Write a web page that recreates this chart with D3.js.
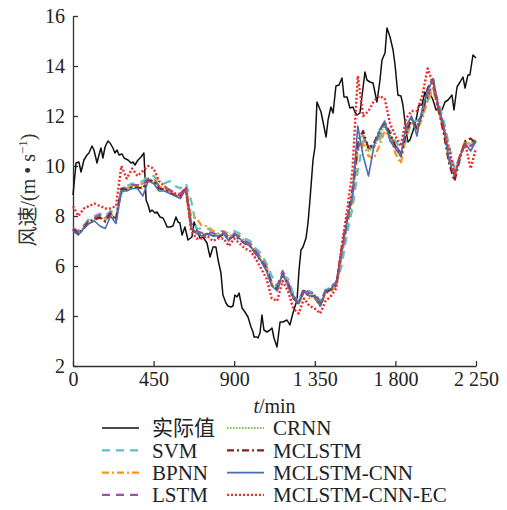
<!DOCTYPE html>
<html>
<head>
<meta charset="utf-8">
<script src="https://cdn.jsdelivr.net/npm/d3@7"></script>
<style>
  body { margin: 0; background: #fff; }
</style>
</head>
<body>
<div id="chart"></div>
<script>
// measured wind speed (own time stamps)
const actualT = [0,17,33,45,61,78,89,106,117,134,145,156,167,179,195,207,223,234,246,257,274,285,307,324,335,346,363,380,396,
  408,419,430,441,458,469,486,502,514,525,542,558,575,586,597,609,625,642,664,676,692,709,726,748,765,782,798,810,826,837,854,
  865,882,893,904,916,927,944,960,977,994,1005,1011,1027,1033,1044,1055,1066,1083,1100,1111,1122,1139,1156,1172,1195,1211,1228,
  1251,1262,1273,1284,1301,1312,1323,1340,1351,1362,1385,1396,1413,1424,1440,1452,1468,1485,1502,1513,1530,1546,1563,1574,1586,
  1602,1630,1641,1658,1675,1697,1714,1725,1742,1753,1770,1787,1798,1814,1831,1842,1859,1870,1881,1898,1915,1932,1948,1965,1982,
  1993,2010,2027,2038,2060,2077,2094,2116,2127,2144,2161,2177,2189,2205,2216,2233,2250];
const actualV = [8.84,10.12,10.16,9.76,10.24,10.44,10.52,10.8,10.64,10.12,10.44,10.72,10.32,10.76,11.0,10.92,10.72,10.52,10.64,10.44,10.48,10.32,10.24,10.12,10.16,10.04,10.24,10.36,10.52,
  8.64,8.44,8.16,8.24,8.12,8.16,7.96,7.92,7.76,7.56,7.56,7.6,7.96,7.76,7.72,7.24,7.56,7.04,7.16,7.76,7.44,7.12,7.16,6.92,6.36,6.76,6.76,6.24,5.72,4.84,4.52,
  4.4,4.36,4.4,4.84,4.76,4.92,4.32,4.16,3.96,3.56,3.36,3.16,3.16,3.12,3.32,4.04,3.44,3.36,3.44,3.52,3.12,2.76,3.76,3.76,3.84,3.64,4.12,
  4.64,5.84,6.64,6.76,7.12,7.72,8.64,10.24,10.76,12.56,12.16,11.76,11.16,11.84,12.36,12.12,13.2,13.24,13.52,12.76,12.76,12.32,12.36,12.16,12.04,
  12.12,13.76,13.44,13.36,13.32,12.56,13.44,14.24,14.52,15.52,15.16,14.64,14.04,12.84,12.8,12.44,11.44,10.96,11.04,11.4,11.84,12.44,12.44,12.96,12.64,
  12.92,12.64,12.24,12.32,12.24,12.56,12.64,12.84,12.24,13.16,13.36,13.56,13.12,13.64,13.64,14.44,14.32];

// forecasts, one value every 30 min from 0 to 2250
const predT = d3.range(0, 2251, 30);
const svm = [7.5,7.4,7.6,7.9,8.0,8.1,8.0,8.2,8.1,8.9,
  9.2,9.3,9.3,9.4,9.6,9.6,9.4,9.3,9.4,9.2,
  9.1,9.3,8.6,7.5,7.5,7.5,7.4,7.4,7.4,7.3,
  7.4,7.3,7.1,7.0,6.7,6.5,6.1,5.6,5.2,5.6,
  5.5,4.9,4.6,4.9,5.0,4.9,4.6,5.0,5.2,5.3,
  6.0,7.3,8.3,9.8,11.0,10.8,10.8,11.0,11.5,11.4,
  11.0,10.7,11.0,11.8,11.8,12.0,12.6,13.0,12.6,11.8,
  10.8,9.9,10.3,10.9,10.9,11.0];
const bpnn = [7.5,7.3,7.5,7.8,7.9,8.0,7.9,8.1,7.9,9.0,
  9.1,9.2,9.2,9.3,9.4,9.5,9.2,9.1,9.0,8.9,
  8.9,9.1,8.0,7.9,7.6,7.6,7.4,7.3,7.4,7.2,
  7.3,7.2,7.0,6.9,6.6,6.3,6.0,5.3,5.1,5.7,
  5.3,4.7,4.5,5.0,4.7,4.7,4.4,4.9,5.0,5.2,
  6.4,7.6,8.6,10.6,10.9,10.4,10.3,10.8,11.4,11.2,
  10.5,10.1,11.2,11.8,11.4,11.9,12.6,13.1,12.2,11.4,
  10.2,9.5,10.4,11.0,10.8,11.0];
const lstm = [7.52,7.36,7.6,7.84,7.92,8.04,7.9,8.16,7.92,9.1,
  9.16,9.24,9.24,9.2,9.5,9.46,9.2,9.16,9.04,8.92,
  8.88,9.16,7.7,7.4,7.32,7.36,7.32,7.24,7.36,7.16,
  7.3,7.16,7.0,6.88,6.6,6.32,5.96,5.32,5.2,5.8,
  5.36,4.8,4.6,5.12,4.9,4.92,4.52,5.04,5.16,5.36,
  6.5,7.7,8.8,10.7,11.2,10.7,10.76,11.24,11.64,11.2,
  10.84,10.52,11.4,11.88,11.6,12.12,12.9,13.2,12.3,11.5,
  10.4,9.7,10.4,10.96,10.8,10.96];
const crnn = [7.44,7.3,7.54,7.76,7.84,7.96,7.8,8.08,7.84,9.06,
  9.08,9.16,9.18,9.14,9.44,9.4,9.12,9.08,8.96,8.84,
  8.8,9.08,7.56,7.32,7.24,7.3,7.24,7.18,7.3,7.1,
  7.24,7.1,6.94,6.8,6.52,6.24,5.88,5.24,5.1,5.68,
  5.28,4.72,4.52,5.04,4.8,4.84,4.44,4.96,5.08,5.28,
  6.6,7.8,8.9,10.9,11.3,10.6,10.74,11.2,11.64,11.2,
  10.76,10.4,11.36,11.9,11.56,12.1,13.0,13.4,12.36,11.4,
  10.3,9.6,10.36,10.96,10.9,11.08];
const mclstm = [7.46,7.28,7.5,7.76,7.86,7.94,7.78,8.1,7.84,9.08,
  9.06,9.16,9.14,9.1,9.42,9.4,9.1,9.06,8.94,8.82,
  8.78,9.1,7.5,7.3,7.22,7.28,7.22,7.14,7.28,7.06,
  7.22,7.06,6.9,6.78,6.5,6.2,5.86,5.22,5.06,5.66,
  5.26,4.7,4.5,5.0,4.78,4.8,4.42,4.94,5.06,5.26,
  6.7,7.9,9.0,11.0,11.4,10.7,10.9,11.4,11.76,11.3,
  10.8,10.4,11.3,11.9,11.5,12.1,13.1,13.5,12.3,11.3,
  10.1,9.4,10.3,11.0,11.1,10.9];
const mclstmCnn = [7.4,7.24,7.5,7.7,7.8,7.6,7.5,8.0,7.7,9.0,
  9.0,9.1,9.1,8.8,9.4,9.3,9.0,9.0,8.9,8.8,
  8.7,9.1,7.5,7.3,7.2,7.3,7.2,7.2,7.3,7.0,
  7.3,7.1,6.9,6.8,6.5,6.2,5.8,5.2,5.0,5.7,
  5.2,4.7,4.5,5.0,4.8,4.8,4.4,5.0,5.1,5.3,
  6.6,7.8,8.8,11.6,10.4,9.6,10.8,11.4,11.8,11.0,
  10.7,10.4,11.6,12.0,11.2,12.3,13.0,13.5,12.4,11.6,
  10.2,9.6,10.4,10.9,10.6,11.0];
const mclstmCnnEc = [8.4,8.0,8.3,8.4,8.5,8.4,8.3,8.3,8.4,10.0,
  9.5,9.9,9.6,9.8,10.0,9.9,9.4,9.2,9.0,8.9,
  8.8,9.1,7.4,7.1,7.1,7.2,7.0,7.1,7.1,6.8,
  7.1,6.9,6.7,6.6,6.3,5.9,5.5,4.7,4.6,5.4,
  5.0,4.3,4.1,4.7,4.4,4.3,4.1,4.6,4.8,5.1,
  6.8,8.2,9.8,13.6,12.0,12.2,12.6,12.8,12.7,11.7,
  11.2,10.8,11.9,12.2,12.2,12.8,13.9,13.3,12.4,11.5,
  10.7,9.7,10.4,10.9,9.9,10.7];

const xTicks = [0, 450, 900, 1350, 1800, 2250];
const yTicks = [2, 4, 6, 8, 10, 12, 14, 16];

const series = [
  {name: "实际值", t: actualT, v: actualV, color: "#111", width: 1.5, dash: null},
  {name: "SVM", t: predT, v: svm, color: "#55c4d0", width: 2.2, dash: "8,6"},
  {name: "BPNN", t: predT, v: bpnn, color: "#f7931e", width: 2.2, dash: "7,3,2,3"},
  {name: "LSTM", t: predT, v: lstm, color: "#a54ea8", width: 2.2, dash: "8,6"},
  {name: "CRNN", t: predT, v: crnn, color: "#7bc043", width: 2, dash: "1.5,1.5"},
  {name: "MCLSTM", t: predT, v: mclstm, color: "#8b1c1c", width: 2.2, dash: "7,3,2,3"},
  {name: "MCLSTM-CNN", t: predT, v: mclstmCnn, color: "#4a6db3", width: 1.6, dash: null},
  {name: "MCLSTM-CNN-EC", t: predT, v: mclstmCnnEc, color: "#ee2b2b", width: 2.4, dash: "2,2"}
];

const FONT = '"Liberation Serif", "Noto Sans CJK SC"';
const width = 507, height = 510;
const margin = {left: 73, right: 476, top: 16, bottom: 366};

const x = d3.scaleLinear().domain([0, 2250]).range([margin.left, margin.right]);
const y = d3.scaleLinear().domain([2, 16]).range([margin.bottom, margin.top]);

const svg = d3.select("#chart").append("svg")
  .attr("width", width).attr("height", height);

const fmt = d3.formatLocale({decimal: ".", thousands: " ", grouping: [3], currency: ["", ""]}).format(",");

// axes, ticks pointing inward
const gx = svg.append("g")
  .attr("transform", `translate(0,${margin.bottom})`)
  .call(d3.axisBottom(x).tickValues(xTicks).tickFormat(fmt).tickSizeInner(-5).tickSizeOuter(0).tickPadding(6));
const gy = svg.append("g")
  .attr("transform", `translate(${margin.left},0)`)
  .call(d3.axisLeft(y).tickValues(yTicks).tickSizeInner(-5).tickSizeOuter(0).tickPadding(8));
[gx, gy].forEach(g => {
  g.selectAll("path, line").attr("stroke", "#333").attr("stroke-width", 1.3);
  g.selectAll("text").attr("font-size", 20).attr("fill", "#222").style("font-family", FONT);
});

// lines
const line = d3.line().x(d => x(d[0])).y(d => y(d[1]));
series.forEach(s => {
  svg.append("path")
    .datum(s.t.map((t, i) => [t, s.v[i]]))
    .attr("fill", "none")
    .attr("stroke", s.color)
    .attr("stroke-width", s.width)
    .attr("stroke-dasharray", s.dash)
    .attr("stroke-linejoin", "round")
    .attr("d", line);
});

// axis titles
const xl = svg.append("text")
  .attr("x", (margin.left + margin.right) / 2).attr("y", 413)
  .attr("text-anchor", "middle").attr("font-size", 20).attr("fill", "#222")
  .style("font-family", FONT);
xl.append("tspan").attr("font-style", "italic").text("t");
xl.append("tspan").text("/min");

const yl = svg.append("text")
  .attr("transform", "translate(35,190) rotate(-90)")
  .attr("text-anchor", "middle").attr("font-size", 20).attr("fill", "#333")
  .style("font-family", FONT);
yl.append("tspan").text("风速/(m • s");
yl.append("tspan").attr("font-size", 13).attr("dy", -8).text("−1");
yl.append("tspan").attr("dy", 8).text(")");

// legend, two columns
const legend = svg.append("g");
series.forEach((s, i) => {
  const col = i < 4 ? 0 : 1;
  const row = i % 4;
  const lx = col === 0 ? 102 : 227;
  const ly = 428 + row * 22.3;
  legend.append("line")
    .attr("x1", lx).attr("x2", lx + 37).attr("y1", ly).attr("y2", ly)
    .attr("stroke", s.color).attr("stroke-width", s.width)
    .attr("stroke-dasharray", s.dash);
  legend.append("text")
    .attr("x", lx + (col === 0 ? 50 : 46)).attr("y", ly)
    .attr("dy", "0.35em").attr("font-size", 21).attr("fill", "#222")
    .style("font-family", FONT)
    .text(s.name);
});
</script>
</body>
</html>
